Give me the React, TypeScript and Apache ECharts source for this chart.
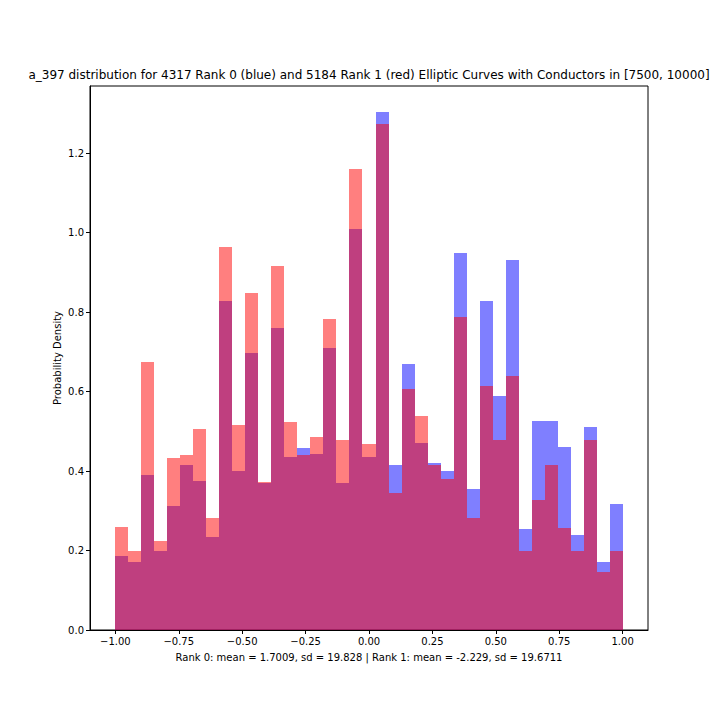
import React, { useEffect, useRef } from "react";
import * as echarts from "echarts";

const binMin = -1.0;
const binMax = 1.0;
const rank0Density = [
  0.187, 0.172, 0.391, 0.199, 0.313, 0.416, 0.376, 0.235, 0.828, 0.399,
  0.698, 0.371, 0.761, 0.436, 0.459, 0.444, 0.711, 0.371, 1.01, 0.436,
  1.304, 0.416, 0.67, 0.471, 0.421, 0.399, 0.95, 0.354, 0.828, 0.59,
  0.932, 0.255, 0.527, 0.527, 0.461, 0.24, 0.511, 0.172, 0.318,
];
const rank1Density = [
  0.26, 0.198, 0.675, 0.223, 0.433, 0.441, 0.507, 0.282, 0.964, 0.516,
  0.849, 0.373, 0.917, 0.524, 0.441, 0.486, 0.783, 0.477, 1.161, 0.469,
  1.274, 0.344, 0.607, 0.539, 0.416, 0.379, 0.789, 0.282, 0.615, 0.477,
  0.64, 0.198, 0.328, 0.416, 0.257, 0.198, 0.479, 0.145, 0.2,
];
const xTicks = [-1.0, -0.75, -0.5, -0.25, 0.0, 0.25, 0.5, 0.75, 1.0];
const yTicks = [0.0, 0.2, 0.4, 0.6, 0.8, 1.0, 1.2];

const titleText =
  "a_397 distribution for 4317 Rank 0 (blue) and 5184 Rank 1 (red) Elliptic Curves with Conductors in [7500, 10000]";
const xLabelText =
  "Rank 0: mean = 1.7009, sd = 19.828 | Rank 1: mean = -2.229, sd = 19.6711";
const yLabelText = "Probability Density";

const FONT = "DejaVu Sans";

function toBins(values: number[]) {
  const n = values.length;
  const w = (binMax - binMin) / n;
  return values.map((v, i) => [binMin + i * w, binMin + (i + 1) * w, v]);
}

function fmt(v: number, d: number) {
  const s = Math.abs(v).toFixed(d);
  return v < 0 ? "\u2212" + s : s;
}

const renderBar = (fill: string) => (params: any, api: any) => {
  const x0 = api.value(0);
  const x1 = api.value(1);
  const h = api.value(2);
  const p0 = api.coord([x0, 0]);
  const p1 = api.coord([x1, h]);
  const left = Math.round(p0[0]);
  const right = Math.round(p1[0]);
  const bottom = Math.round(p0[1]);
  const top = Math.round(p1[1]);
  return {
    type: "rect",
    shape: {
      x: left,
      y: top,
      width: right - left,
      height: bottom - top,
    },
    style: { fill },
  };
};

export default function App() {
  const ref = useRef<HTMLDivElement>(null);
  useEffect(() => {
    if (!ref.current) return;
    const chart = echarts.init(ref.current, null, { renderer: "svg" });
    const yMax = Math.max(...rank0Density, ...rank1Density) * 1.05;
    const xPad = (binMax - binMin) * 0.05;
    chart.setOption({
      animation: false,
      backgroundColor: "#ffffff",
      grid: {
        left: 90,
        right: 72,
        top: 86,
        bottom: 90,
        show: true,
        borderColor: "#000000",
        borderWidth: 1,
        backgroundColor: "transparent",
      },
      xAxis: {
        type: "value",
        min: binMin - xPad,
        max: binMax + xPad,
        splitLine: { show: false },
        axisLine: { show: true, onZero: false, lineStyle: { color: "#000", width: 1 } },
        axisTick: {
          show: true,
          customValues: xTicks,
          length: 4,
          lineStyle: { color: "#000" },
        },
        axisLabel: {
          customValues: xTicks,
          formatter: (v: number) => fmt(v, 2),
          color: "#000",
          fontFamily: FONT,
          fontSize: 10,
          margin: 6,
        },
      },
      yAxis: {
        type: "value",
        min: 0,
        max: yMax,
        splitLine: { show: false },
        axisLine: { show: true, onZero: false, lineStyle: { color: "#000", width: 1 } },
        axisTick: {
          show: true,
          customValues: yTicks,
          length: 4,
          lineStyle: { color: "#000" },
        },
        axisLabel: {
          customValues: yTicks,
          formatter: (v: number) => fmt(v, 1),
          color: "#000",
          fontFamily: FONT,
          fontSize: 10,
          margin: 6,
        },
      },
      graphic: [
        {
          type: "text",
          x: 369,
          y: 75,
          style: {
            text: titleText,
            fontFamily: FONT,
            fontSize: 12,
            fill: "#000",
            textAlign: "center",
            textVerticalAlign: "middle",
          },
        },
        {
          type: "text",
          x: 369,
          y: 657,
          style: {
            text: xLabelText,
            fontFamily: FONT,
            fontSize: 10,
            fill: "#000",
            textAlign: "center",
            textVerticalAlign: "middle",
          },
        },
        {
          type: "text",
          x: 57,
          y: 358,
          rotation: Math.PI / 2,
          style: {
            text: yLabelText,
            fontFamily: FONT,
            fontSize: 10,
            fill: "#000",
            textAlign: "center",
            textVerticalAlign: "middle",
          },
        },
      ],
      series: [
        {
          type: "custom",
          name: "Rank 0",
          renderItem: renderBar("rgba(0,0,255,0.5)"),
          encode: { x: [0, 1], y: 2 },
          data: toBins(rank0Density),
          clip: true,
        },
        {
          type: "custom",
          name: "Rank 1",
          renderItem: renderBar("rgba(255,0,0,0.5)"),
          encode: { x: [0, 1], y: 2 },
          data: toBins(rank1Density),
          clip: true,
        },
      ],
    });
    return () => chart.dispose();
  }, []);
  return (
    <div
      ref={ref}
      style={{ position: "absolute", left: 0, top: 0, width: 720, height: 720 }}
    />
  );
}
